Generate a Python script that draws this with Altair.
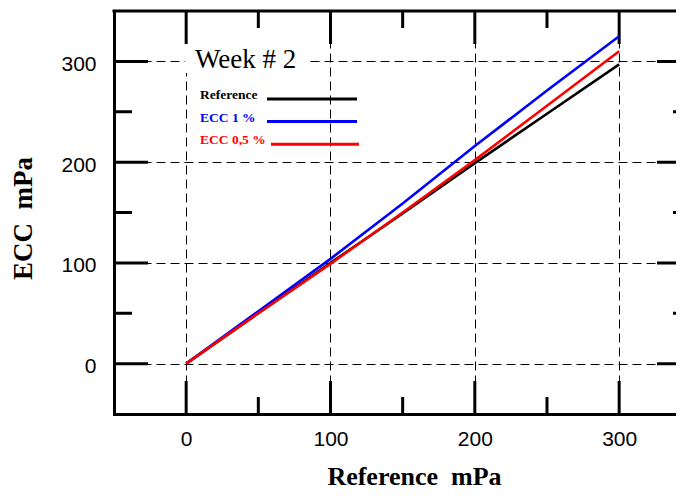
import altair as alt
import pandas as pd

# ---- data ----
x_vals = [0, 50, 100, 150, 200, 250, 300]
ref_vals = [0, 50, 100, 149, 199, 248, 297]
ecc1_vals = [0, 52, 104, 159, 216, 271, 325]
ecc05_vals = [0, 50, 99, 150, 202, 256, 310]

series_names = ["Reference", "ECC 1 %", "ECC 0,5 %"]
series_colors = ["#000000", "#0000ff", "#ff0000"]
series_values = [ref_vals, ecc1_vals, ecc05_vals]

major_ticks = [0, 100, 200, 300]
minor_ticks = [50, 150, 250]

title_text = "Week # 2"
x_title = "Reference\u00a0\u00a0mPa"
y_title = "ECC\u00a0\u00a0mPa"

# ---- layout ----
W, H = 562, 403
X_MAX = -50 + W / 1.4433
RIGHT_EDGE = 577  # where the right frame would sit (outside the window)
MAJ, MIN = 33, 17
SERIF = "Liberation Serif"
SANS = "Liberation Sans"

x_scale = alt.Scale(domain=[-50, X_MAX], nice=False, zero=False)
y_scale = alt.Scale(domain=[-50, 350], nice=False, zero=False)

x_axis = alt.Axis(
    values=major_ticks, domain=True, domainWidth=3, domainColor="black", domainCap="square",
    ticks=False, tickSize=0, labelFont=SANS, labelFontSize=21, labelColor="black",
    labelPadding=14, grid=True, gridDash=[9, 5], gridColor="black", gridWidth=1,
    title=x_title, titleFont=SERIF, titleFontSize=26, titleFontWeight="bold",
    titleColor="black", titleX=300, titleY=70, titleAlign="center",
    titleBaseline="alphabetic", titleAnchor="middle",
)
y_axis = alt.Axis(
    values=major_ticks, domain=True, domainWidth=3, domainColor="black", domainCap="square",
    ticks=False, tickSize=0, labelFont=SANS, labelFontSize=21, labelColor="black",
    labelPadding=18, labelOffset=3, grid=True, gridDash=[9, 5], gridColor="black", gridWidth=1,
    title=y_title, titleFont=SERIF, titleFontSize=27, titleFontWeight="bold",
    titleColor="black", titleX=-83, titleY=207, titleAngle=270, titleAlign="center",
    titleBaseline="alphabetic", titleAnchor="middle",
)

line_layers = []
for i, (name, color, vals) in enumerate(zip(series_names, series_colors, series_values)):
    df = pd.DataFrame({"x": x_vals, "y": vals, "series": name})
    line_layers.append(alt.Chart(df).mark_line(strokeWidth=2.6, color=color).encode(
        x=alt.X("x:Q", scale=x_scale), y=alt.Y("y:Q", scale=y_scale)))

axes_holder = alt.Chart(pd.DataFrame({"x": x_vals, "y": ref_vals})).mark_line(
    strokeWidth=0, color="black").encode(
    x=alt.X("x:Q", scale=x_scale, axis=x_axis), y=alt.Y("y:Q", scale=y_scale, axis=y_axis))

one = pd.DataFrame({"t": [title_text]})
maj_df = pd.DataFrame({"v": major_ticks})
min_df = pd.DataFrame({"v": minor_ticks})

# white box behind title
title_box = alt.Chart(one).mark_rect(color="white").encode(
    x=alt.value(71), x2=alt.value(192), y=alt.value(33), y2=alt.value(62))

# top frame
top_frame = alt.Chart(one).mark_rule(color="black", strokeWidth=3, strokeCap="square").encode(
    x=alt.value(0), x2=alt.value(W + 4), y=alt.value(0))

tick_layers = []
for df, ln in [(maj_df, MAJ), (min_df, MIN)]:
    tick_layers.append(alt.Chart(df).mark_rule(color="black", strokeWidth=3).encode(
        x=alt.X("v:Q", scale=x_scale), y=alt.value(H), y2=alt.value(H - ln)))
    tick_layers.append(alt.Chart(df).mark_rule(color="black", strokeWidth=3).encode(
        x=alt.X("v:Q", scale=x_scale), y=alt.value(0), y2=alt.value(ln)))
    tick_layers.append(alt.Chart(df).mark_rule(color="black", strokeWidth=3).encode(
        y=alt.Y("v:Q", scale=y_scale), x=alt.value(0), x2=alt.value(ln + 1)))
    tick_layers.append(alt.Chart(df).mark_rule(color="black", strokeWidth=3).encode(
        y=alt.Y("v:Q", scale=y_scale), x=alt.value(RIGHT_EDGE), x2=alt.value(RIGHT_EDGE - ln - 1)))

title_mark = alt.Chart(one).mark_text(
    font=SERIF, fontSize=27, align="left", baseline="alphabetic", color="black"
).encode(text="t:N", x=alt.value(81), y=alt.value(57))

# legend (label left, line right)
leg_df = pd.DataFrame({"label": series_names, "color": series_colors, "i": list(range(len(series_names)))})
leg_base = alt.Chart(leg_df).transform_calculate(
    ty="88 + datum.i * 22.6",
    lx1="datum.i == 2 ? 157 : 153",
    lx2="datum.i == 2 ? 245 : 243",
)
leg_text = leg_base.mark_text(
    font=SERIF, fontSize=13.5, fontWeight="bold", align="left", baseline="alphabetic"
).encode(
    text="label:N",
    x=alt.value(86),
    y=alt.Y("ty:Q", scale=None),
    color=alt.Color("color:N", scale=None),
)
leg_line = leg_base.mark_rule(strokeWidth=3).encode(
    x=alt.X("lx1:Q", scale=None),
    x2=alt.X2("lx2:Q"),
    y=alt.Y("ty:Q", scale=None),
    color=alt.Color("color:N", scale=None),
)

chart = alt.layer(
    axes_holder,
    title_box,
    *tick_layers,
    top_frame,
    *line_layers,
    title_mark,
    leg_text,
    leg_line,
).properties(
    width=W, height=H,
    autosize=alt.AutoSizeParams(type="none"),
    padding={"left": 106, "top": 3, "right": 0, "bottom": 76},
    background="white",
).configure_view(strokeWidth=0)

chart.save("out.html", embed_options={"renderer": "svg", "actions": False})
